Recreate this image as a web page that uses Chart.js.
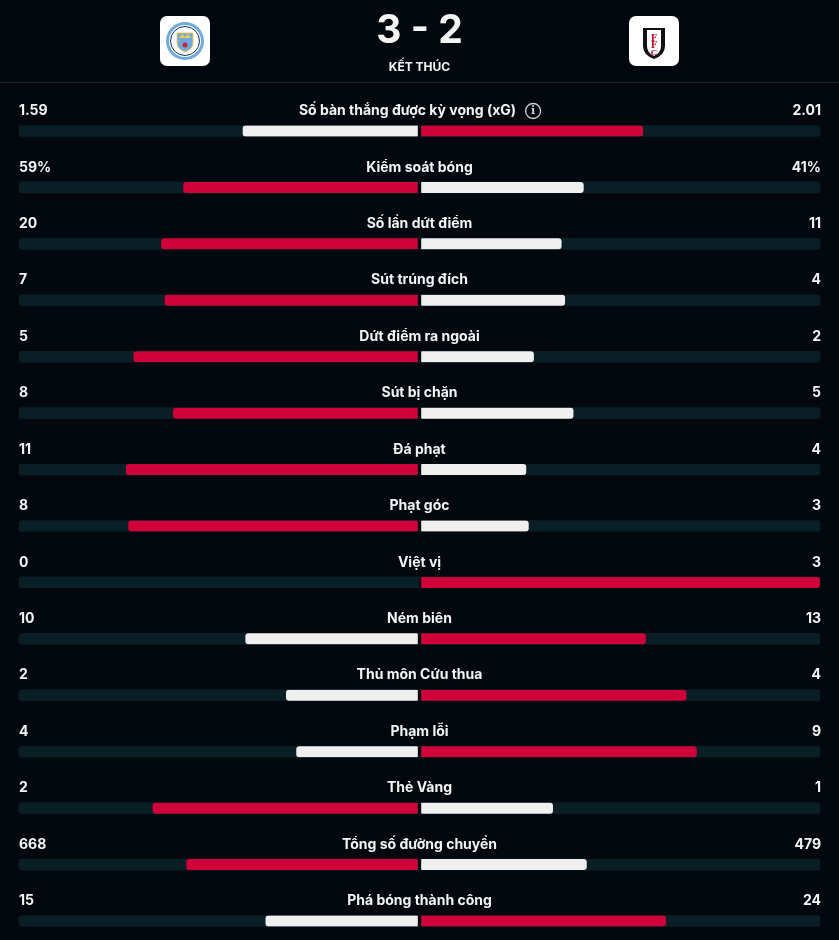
<!DOCTYPE html>
<html>
<head>
<meta charset="utf-8">
<script src="https://cdn.jsdelivr.net/npm/chart.js@4.4.1/dist/chart.umd.min.js"></script>
<style>
    html, body { margin: 0; padding: 0; background: #03070e; }
    #wrap { position: relative; width: 839px; height: 940px; overflow: hidden; font-family: Inter, 'Noto Sans', sans-serif; }
    #header { position: absolute; left: 0; top: 0; width: 839px; height: 82px; border-bottom: 1px solid #0c2930; }
    .logo { position: absolute; top: 16px; width: 50px; height: 50px; background: #fff; border-radius: 7px; }
    .logo svg { display: block; width: 50px; height: 50px; }
    #score { position: absolute; left: 0; width: 839px; top: 5px; text-align: center; color: #f4f4f4; font-family: Inter, sans-serif; font-weight: bold; font-size: 39px; line-height: 48px; white-space: pre; }
    #status { position: absolute; left: 0; width: 839px; top: 59px; text-align: center; color: #f4f4f4; font-weight: 700; font-size: 12px; }
    #statsChart { position: absolute; left: 0; top: 0; }
</style>
</head>
<body>
<div id="wrap">
    <canvas id="statsChart" width="839" height="940"></canvas>
    <div id="header">
        <div class="logo" style="left:160px">
            <svg viewBox="0 0 50 50">
                <circle cx="25" cy="25" r="19" fill="#6cabdd"/>
                <circle cx="25" cy="25" r="16" fill="#fff"/>
                <circle cx="25" cy="25" r="14.5" fill="none" stroke="#1c2c5b" stroke-width="1"/>
                <path d="M17 17 H33 V27 Q33 33 25 36 Q17 33 17 27 Z" fill="#6cabdd" stroke="#f2c94c" stroke-width="1"/>
                <path d="M19 22 L22 18 L25 21 L28 18 L31 22 Z" fill="#f2c94c"/>
                <circle cx="25" cy="29" r="2.5" fill="#d0213a"/>
            </svg>
        </div>
        <div class="logo" style="left:629px">
            <svg viewBox="0 0 50 50">
                <path d="M14 12 H36 V30 Q36 39 25 43 Q14 39 14 30 Z" fill="#111"/>
                <path d="M18 14 H32 V30 Q32 37 25 40 Q18 37 18 30 Z" fill="#fff"/>
                <text x="25" y="25" text-anchor="middle" font-family="DejaVu Serif" font-weight="bold" font-size="9" fill="#cc0d2c">F</text>
                <text x="25" y="32" text-anchor="middle" font-family="DejaVu Serif" font-weight="bold" font-size="9" fill="#cc0d2c">F</text>
                <text x="25" y="39" text-anchor="middle" font-family="DejaVu Serif" font-weight="bold" font-size="8" fill="#cc0d2c">C</text>
            </svg>
        </div>
        <div id="score">3 - 2</div>
        <div id="status">KẾT THÚC</div>
    </div>
</div>
<script>
// Match stats (home = Man City, away = Fulham)
const statLabels = [
    'Số bàn thắng được kỳ vọng (xG)', 'Kiểm soát bóng', 'Số lần dứt điểm', 'Sút trúng đích',
    'Dứt điểm ra ngoài', 'Sút bị chặn', 'Đá phạt', 'Phạt góc', 'Việt vị', 'Ném biên',
    'Thủ môn Cứu thua', 'Phạm lỗi', 'Thẻ Vàng', 'Tổng số đường chuyền', 'Phá bóng thành công'
];
const homeValues = [1.59, 59, 20, 7, 5, 8, 11, 8, 0, 10, 2, 4, 2, 668, 15];
const awayValues = [2.01, 41, 11, 4, 2, 5, 4, 3, 3, 13, 4, 9, 1, 479, 24];
const valueSuffix = ['', '%', '', '', '', '', '', '', '', '', '', '', '', '', ''];

const BG = '#03070e';
const TRACK = '#0a1e26';
const RED = '#cf0339';
const WHITE = '#efefef';

// share of each side, left side negative; empty side gets no bar
const homeBars = homeValues.map(function(v, i) {
    const total = v + awayValues[i];
    return v > 0 ? [-(v / total), 0] : null;
});
const awayBars = awayValues.map(function(v, i) {
    const total = v + homeValues[i];
    return v > 0 ? [0, v / total] : null;
});
const homeColors = homeValues.map(function(v, i) { return v > awayValues[i] ? RED : WHITE; });
const awayColors = awayValues.map(function(v, i) { return v > homeValues[i] ? RED : WHITE; });

function formatValue(v, i) {
    return v + valueSuffix[i];
}

const FONT = 'bold 14px Inter, sans-serif';

// Draws row titles and values above each bar
const textPlugin = {
    id: 'statText',
    afterDatasetsDraw: function(chart) {
        const ctx = chart.ctx;
        const yScale = chart.scales.y;
        const area = chart.chartArea;
        const mid = chart.scales.x.getPixelForValue(0);
        ctx.save();
        ctx.fillStyle = '#f4f4f4';
        ctx.textBaseline = 'middle';
        ctx.font = FONT;
        statLabels.forEach(function(label, i) {
            const y = yScale.getPixelForValue(i) - 20;
            ctx.textAlign = 'left';
            ctx.fillText(formatValue(homeValues[i], i), area.left, y);
            ctx.textAlign = 'right';
            ctx.fillText(formatValue(awayValues[i], i), area.right + 1, y);
            ctx.textAlign = 'center';
            if (i === 0) {
                const w = ctx.measureText(label).width;
                const x = mid - 12;
                ctx.fillText(label, x, y);
                const ix = x + w / 2 + 17;
                ctx.beginPath();
                ctx.strokeStyle = '#cfcfcf';
                ctx.lineWidth = 1.3;
                ctx.arc(ix, y, 7.5, 0, Math.PI * 2);
                ctx.stroke();
                ctx.font = 'bold 11px "DejaVu Serif", serif';
                ctx.fillStyle = '#cfcfcf';
                ctx.fillText('i', ix, y + 0.5);
                ctx.font = FONT;
                ctx.fillStyle = '#f4f4f4';
            } else {
                ctx.fillText(label, mid, y);
            }
        });
        ctx.restore();
    }
};

const trackBars = statLabels.map(function() { return [-1, 1]; });

new Chart(document.getElementById('statsChart'), {
    type: 'bar',
    data: {
        labels: statLabels,
        datasets: [
            {
                data: homeBars,
                backgroundColor: homeColors,
                borderColor: BG,
                borderWidth: { right: 2 },
                borderSkipped: false,
                borderRadius: 3,
                barThickness: 11,
                grouped: false,
                clip: false,
                order: 0
            },
            {
                data: awayBars,
                backgroundColor: awayColors,
                borderColor: BG,
                borderWidth: { left: 2 },
                borderSkipped: false,
                borderRadius: 3,
                barThickness: 11,
                grouped: false,
                clip: false,
                order: 0
            },
            {
                data: trackBars,
                backgroundColor: TRACK,
                borderWidth: 0,
                borderSkipped: false,
                borderRadius: 3,
                barThickness: 11,
                grouped: false,
                clip: false,
                order: 1
            }
        ]
    },
    options: {
        indexAxis: 'y',
        responsive: false,
        animation: false,
        events: [],
        layout: {
            padding: { top: 131, bottom: 19, left: 19, right: 19 }
        },
        plugins: {
            legend: { display: false },
            tooltip: { enabled: false }
        },
        scales: {
            x: { type: 'linear', min: -1, max: 1, display: false },
            y: { type: 'category', offset: false, display: false, grid: { display: false } }
        }
    },
    plugins: [textPlugin]
});
</script>
</body>
</html>
